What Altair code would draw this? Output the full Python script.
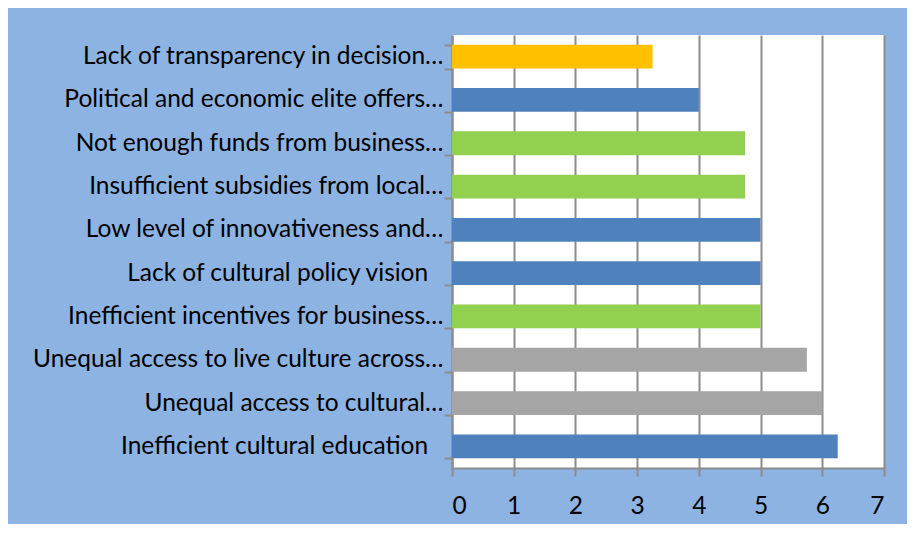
import altair as alt
import pandas as pd

categories = [
    "Lack of transparency in decision…",
    "Political and economic elite offers…",
    "Not enough funds from business…",
    "Insufficient subsidies from local…",
    "Low level of innovativeness and…",
    "Lack of cultural policy vision",
    "Inefficient incentives for business…",
    "Unequal access to live culture across…",
    "Unequal access to cultural…",
    "Inefficient cultural education",
]
values = [3.25, 4, 4.75, 4.75, 5, 5, 5, 5.75, 6, 6.25]
groups = ["yellow", "blue", "green", "green", "blue", "blue", "green", "gray", "gray", "blue"]

group_domain = ["blue", "green", "gray", "yellow"]
group_colors = ["#4F81BD", "#92D050", "#A5A5A5", "#FFC000"]

df = pd.DataFrame({"category": categories, "value": values, "group": groups})

FONT = "Lato"
GRID = "#8C8C8C"

chart = alt.Chart(df).mark_bar().encode(
    x=alt.X(
        "value:Q",
        scale=alt.Scale(domain=[0, 7], nice=False),
        axis=alt.Axis(
            title=None,
            values=[0, 1, 2, 3, 4, 5, 6, 7],
            format="d",
            grid=True,
            gridColor=GRID,
            gridWidth=2,
            domainColor=GRID,
            domainWidth=2,
            tickColor=GRID,
            tickWidth=2,
            tickSize=8,
            labelFont=FONT,
            labelFontSize=24.5,
            labelColor="#000000",
            labelPadding=18,
        ),
    ),
    y=alt.Y(
        "category:N",
        sort=categories,
        scale=alt.Scale(paddingInner=0.45, paddingOuter=0.225),
        axis=alt.Axis(
            title=None,
            grid=False,
            tickBand="extent",
            domainColor=GRID,
            domainWidth=2,
            tickColor=GRID,
            tickWidth=2,
            tickSize=8,
            labelFont=FONT,
            labelFontSize=24.5,
            labelColor="#000000",
            labelPadding=1,
            labelLimit=0,
            labelExpr="indexof(datum.label, '…') < 0 ? datum.label + '\u2002\u2009\u200b' : datum.label",
        ),
    ),
    color=alt.Color(
        "group:N",
        scale=alt.Scale(domain=group_domain, range=group_colors),
        legend=None,
    ),
).properties(
    width=432,
    height=433,
    autosize="none",
    padding={"left": 444, "top": 27, "right": 23, "bottom": 56},
    background="#8DB3E2",
).configure_view(
    fill="#FFFFFF",
    stroke=None,
)

chart.save("out.html", embed_options={"renderer": "svg", "actions": False})
